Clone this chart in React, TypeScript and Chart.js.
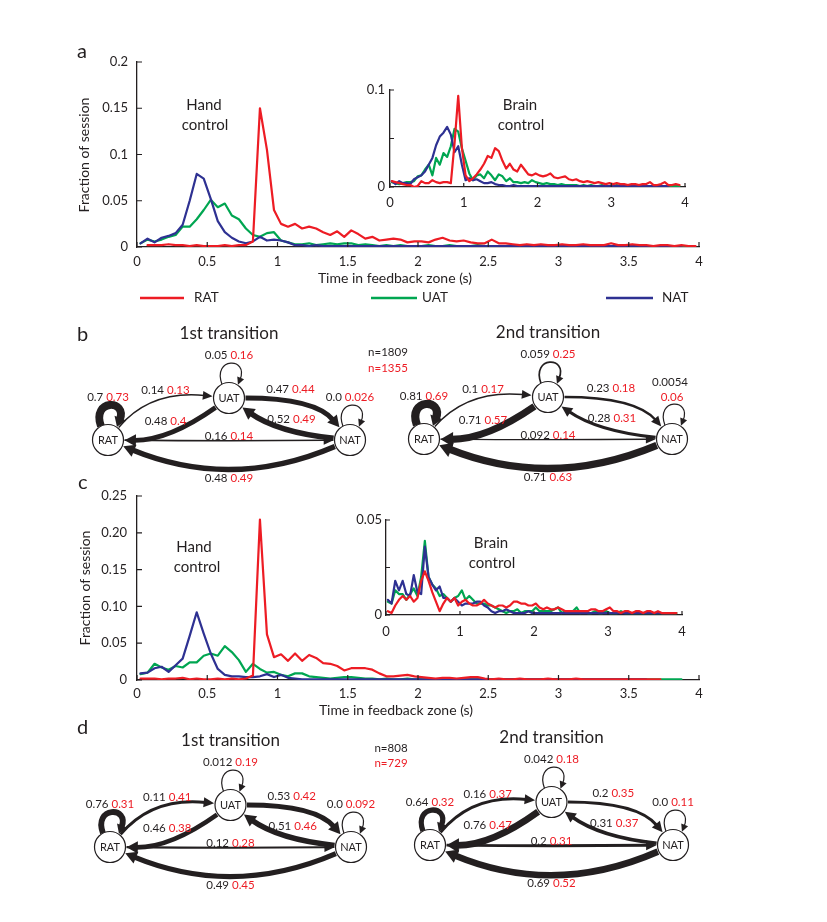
import React, { useEffect, useRef } from 'react';
import { Chart, registerables } from 'chart.js';

Chart.register(...registerables);

const FONT = 'Lato, "Noto Sans", "DejaVu Sans", sans-serif';
const INK = '#231f20';
const RED = '#ed1c24';
const GREEN = '#00a651';
const BLUE = '#2e3192';

// ---------- data ----------
// bin centres (s)
const TIME = [
  0.025, 0.075, 0.125, 0.175, 0.225, 0.275, 0.325, 0.375, 0.425, 0.475,
  0.525, 0.575, 0.625, 0.675, 0.725, 0.775, 0.825, 0.875, 0.925, 0.975,
  1.025, 1.075, 1.125, 1.175, 1.225, 1.275, 1.325, 1.375, 1.425, 1.475,
  1.525, 1.575, 1.625, 1.675, 1.725, 1.775, 1.825, 1.875, 1.925, 1.975,
  2.025, 2.075, 2.125, 2.175, 2.225, 2.275, 2.325, 2.375, 2.425, 2.475,
  2.525, 2.575, 2.625, 2.675, 2.725, 2.775, 2.825, 2.875, 2.925, 2.975,
  3.025, 3.075, 3.125, 3.175, 3.225, 3.275, 3.325, 3.375, 3.425, 3.475,
  3.525, 3.575, 3.625, 3.675, 3.725, 3.775, 3.825, 3.875, 3.925, 3.975,
];

// panel a, hand control
const A_HAND_RAT = [
  null, 0.002, 0.002, 0.002, 0.003, 0.002, 0.002, 0.001, 0.002, 0.001,
  0.001, 0.001, 0.002, 0.001, 0.002, 0.002, 0.006, 0.150, 0.105, 0.040,
  0.025, 0.022, 0.025, 0.020, 0.022, 0.020, 0.016, 0.013, 0.017, 0.011,
  0.018, 0.014, 0.009, 0.011, 0.007, 0.008, 0.009, 0.008, 0.005, 0.006,
  0.006, 0.005, 0.008, 0.010, 0.007, 0.006, 0.007, 0.005, 0.004, 0.004,
  0.008, 0.004, 0.004, 0.003, 0.002, 0.003, 0.002, 0.003, 0.002, 0.002,
  0.003, 0.002, 0.002, 0.003, 0.002, 0.002, 0.002, 0.004, 0.002, 0.002,
  0.003, 0.002, 0.002, 0.001, 0.002, 0.002, 0.001, 0.002, 0.001, 0.001,
];
const A_HAND_UAT = [
  0.004, 0.008, 0.006, 0.008, 0.011, 0.013, 0.022, 0.022, 0.030, 0.040,
  0.051, 0.043, 0.047, 0.034, 0.030, 0.020, 0.013, 0.011, 0.015, 0.016,
  0.007, 0.005, 0.003, 0.003, 0.004, 0.002, 0.003, 0.004, 0.003, 0.004,
  0.004, 0.002, 0.003, 0.002, 0.001, 0.002, 0.001, 0.002, 0.001, 0.001,
  0.001, 0.002, 0.001, 0.001, 0.002, 0.001, 0.001, 0.001, 0.002, 0.001,
  0.001, 0.001, 0.001, 0.002, 0.001, 0.001, 0.001, 0.001, 0.001, 0.001,
  0.001, 0.001, 0.001, 0.001, 0.001, 0.001, 0.001, 0.001, 0.001, 0.001,
  0.001, 0.001, 0.001, 0.001, 0.001, 0.001, 0.001, 0.001, 0.001, null,
];
const A_HAND_NAT = [
  0.004, 0.009, 0.005, 0.010, 0.012, 0.015, 0.024, 0.050, 0.079, 0.074,
  0.052, 0.028, 0.016, 0.010, 0.006, 0.004, 0.006, 0.011, 0.007, 0.008,
  0.007, 0.005, 0.002, 0.002, 0.001, 0.002, 0.001, 0.001, 0.001, 0.001,
  0.001, 0.001, 0.001, 0.001, 0.001, 0.001, 0.001, 0.001, 0.001, 0.001,
  0.001, 0.001, 0.001, 0.001, 0.001, 0.001, 0.001, 0.001, 0.001, 0.001,
  0.001, 0.001, 0.001, 0.001, 0.001, 0.001, 0.001, 0.001, 0.001, 0.001,
  0.001, 0.001, 0.001, 0.001, 0.001, 0.001, 0.001, 0.001, 0.001, 0.001,
  0.001, 0.001, 0.001, 0.001, 0.001, 0.001, 0.001, 0.001, null, null,
];

// panel a, brain control (inset)
const A_BRAIN_RAT = [
  0.006, 0.005, 0.004, 0.003, 0.002, 0.002, 0.000, 0.001, 0.006, 0.004,
  0.004, 0.007, 0.005, 0.004, 0.005, 0.005, 0.004, 0.045, 0.094, 0.040,
  0.012, 0.006, 0.009, 0.013, 0.018, 0.024, 0.032, 0.030, 0.040, 0.037,
  0.027, 0.019, 0.024, 0.018, 0.016, 0.023, 0.018, 0.013, 0.012, 0.014,
  0.012, 0.011, 0.012, 0.014, 0.010, 0.009, 0.010, 0.011, 0.008, 0.007,
  0.008, 0.006, 0.005, 0.006, 0.005, 0.004, 0.005, 0.004, 0.003, 0.004,
  0.003, 0.004, 0.003, 0.003, 0.002, 0.003, 0.003, 0.002, 0.003, 0.003,
  0.005, 0.002, 0.002, 0.003, 0.005, 0.002, 0.002, 0.003, 0.002, null,
];
const A_BRAIN_UAT = [
  0.005, 0.004, 0.003, 0.004, 0.005, 0.005, 0.006, 0.011, 0.012, 0.018,
  0.023, 0.012, 0.030, 0.023, 0.035, 0.031, 0.042, 0.060, 0.057, 0.040,
  0.027, 0.014, 0.007, 0.012, 0.013, 0.009, 0.016, 0.012, 0.007, 0.013,
  0.011, 0.006, 0.009, 0.005, 0.005, 0.004, 0.005, 0.004, 0.007, 0.005,
  0.004, 0.003, 0.004, 0.003, 0.003, 0.002, 0.003, 0.002, 0.002, 0.002,
  0.002, 0.001, 0.002, 0.001, 0.002, 0.001, 0.001, 0.002, 0.001, 0.001,
  0.001, 0.002, 0.001, 0.001, 0.001, 0.002, 0.001, 0.001, 0.001, 0.001,
  0.001, 0.001, 0.001, 0.001, 0.001, 0.001, 0.001, 0.001, 0.001, null,
];
const A_BRAIN_NAT = [
  0.006, 0.003, 0.006, 0.004, 0.004, 0.003, 0.008, 0.010, 0.012, 0.016,
  0.023, 0.030, 0.043, 0.052, 0.056, 0.062, 0.054, 0.036, 0.042, 0.023,
  0.007, 0.009, 0.007, 0.008, 0.006, 0.004, 0.004, 0.005, 0.003, 0.002,
  0.002, 0.001, 0.001, 0.002, 0.001, 0.001, 0.001, 0.001, 0.001, 0.001,
  0.001, 0.001, 0.001, 0.001, 0.001, 0.001, 0.001, 0.001, 0.001, 0.001,
  0.001, 0.001, 0.001, 0.001, 0.001, 0.001, 0.001, 0.001, 0.001, 0.001,
  0.001, 0.001, 0.001, 0.001, 0.001, 0.001, 0.001, 0.001, 0.001, 0.001,
  0.001, 0.001, 0.001, 0.001, 0.001, 0.001, null, null, null, null,
];

// panel c, hand control
const C_HAND_RAT = [
  0.002, 0.002, 0.002, 0.001, 0.002, 0.002, 0.003, 0.001, 0.002, 0.001,
  0.001, 0.002, 0.001, 0.002, 0.001, 0.002, 0.006, 0.218, 0.062, 0.031,
  0.035, 0.026, 0.036, 0.026, 0.034, 0.030, 0.023, 0.022, 0.019, 0.013,
  0.016, 0.016, 0.016, 0.014, 0.009, 0.005, 0.005, 0.006, 0.007, 0.005,
  0.004, 0.003, 0.002, 0.003, 0.003, 0.002, 0.003, 0.004, 0.004, 0.002,
  0.001, 0.002, 0.001, 0.001, 0.002, 0.001, 0.001, 0.001, 0.002, 0.001,
  0.001, 0.001, 0.002, 0.001, 0.001, 0.001, 0.001, 0.001, 0.001, 0.001,
  0.001, 0.001, 0.001, 0.001, 0.001, null, null, null, null, null,
];
const C_HAND_UAT = [
  0.008, 0.010, 0.022, 0.017, 0.014, 0.019, 0.017, 0.024, 0.024, 0.033,
  0.036, 0.033, 0.046, 0.038, 0.027, 0.011, 0.022, 0.015, 0.010, 0.011,
  0.007, 0.005, 0.009, 0.009, 0.005, 0.004, 0.003, 0.002, 0.003, 0.004,
  0.004, 0.003, 0.002, 0.002, 0.001, 0.002, 0.001, 0.001, 0.002, 0.001,
  0.001, 0.001, 0.001, 0.001, 0.001, 0.001, 0.001, 0.001, 0.001, 0.001,
  0.001, 0.001, 0.001, 0.001, 0.001, 0.001, 0.001, 0.001, 0.001, 0.001,
  0.001, 0.001, 0.001, 0.001, 0.001, 0.001, 0.001, 0.001, 0.001, 0.001,
  0.001, 0.001, 0.001, 0.001, 0.001, 0.001, 0.001, 0.001, null, null,
];
const C_HAND_NAT = [
  0.009, 0.010, 0.016, 0.018, 0.011, 0.020, 0.029, 0.060, 0.092, 0.063,
  0.036, 0.015, 0.007, 0.005, 0.005, 0.004, 0.004, 0.005, 0.008, 0.004,
  0.007, 0.003, 0.002, 0.001, 0.001, 0.001, 0.001, 0.001, 0.001, 0.001,
  0.001, 0.001, 0.001, 0.001, 0.001, 0.001, 0.001, 0.001, 0.001, 0.001,
  0.001, 0.001, 0.001, 0.001, 0.001, 0.001, 0.001, 0.001, 0.001, 0.001,
  0.001, 0.001, 0.001, 0.001, 0.001, 0.001, 0.001, 0.001, 0.001, 0.001,
  0.001, 0.001, 0.001, 0.001, 0.001, 0.001, 0.001, 0.001, 0.001, 0.001,
  0.001, 0.001, 0.001, null, null, null, null, null, null, null,
];

// panel c, brain control (inset)
const C_BRAIN_RAT = [
  0.002, 0.001, 0.005, 0.008, 0.010, 0.008, 0.010, 0.007, 0.009, 0.018,
  0.023, 0.018, 0.012, 0.007, 0.002, 0.006, 0.009, 0.007, 0.009, 0.005,
  0.007, 0.008, 0.006, 0.005, 0.005, 0.006, 0.008, 0.006, 0.005, 0.004,
  0.005, 0.005, 0.004, 0.005, 0.007, 0.007, 0.006, 0.006, 0.005, 0.005,
  0.006, 0.004, 0.003, 0.004, 0.003, 0.003, 0.004, 0.003, 0.002, 0.002,
  0.002, 0.002, 0.002, 0.002, 0.002, 0.003, 0.003, 0.002, 0.002, 0.003,
  0.004, 0.002, 0.002, 0.001, 0.002, 0.002, 0.001, 0.002, 0.002, 0.001,
  0.002, 0.002, 0.001, 0.002, 0.001, 0.001, 0.001, 0.001, 0.001, null,
];
const C_BRAIN_UAT = [
  0.007, 0.006, 0.013, 0.011, 0.011, 0.008, 0.011, 0.014, 0.010, 0.020,
  0.039, 0.020, 0.016, 0.014, 0.010, 0.011, 0.009, 0.007, 0.009, 0.010,
  0.013, 0.008, 0.010, 0.008, 0.006, 0.006, 0.006, 0.005, 0.005, 0.004,
  0.003, 0.002, 0.001, 0.002, 0.002, 0.003, 0.001, 0.002, 0.002, 0.002,
  0.004, 0.002, 0.002, 0.002, 0.002, 0.003, 0.004, 0.001, 0.002, 0.002,
  0.002, 0.004, 0.001, 0.002, 0.001, 0.001, 0.002, 0.001, 0.001, 0.002,
  0.001, 0.001, 0.001, 0.002, 0.001, 0.001, 0.001, 0.001, 0.001, 0.001,
  0.001, 0.001, 0.001, 0.001, 0.001, 0.001, 0.001, 0.001, 0.001, null,
];
const C_BRAIN_NAT = [
  0.008, 0.006, 0.018, 0.013, 0.018, 0.011, 0.010, 0.021, 0.012, 0.011,
  0.036, 0.020, 0.016, 0.013, 0.015, 0.009, 0.009, 0.007, 0.009, 0.007,
  0.005, 0.006, 0.006, 0.006, 0.007, 0.007, 0.005, 0.004, 0.002, 0.001,
  0.002, 0.002, 0.003, 0.002, 0.001, 0.001, 0.001, 0.001, 0.002, 0.001,
  0.001, 0.001, 0.001, 0.001, 0.001, 0.001, 0.001, 0.001, 0.001, 0.001,
  0.001, 0.001, 0.001, 0.001, 0.001, 0.001, 0.001, 0.001, 0.001, 0.001,
  0.001, 0.001, 0.001, 0.001, 0.001, 0.001, 0.001, 0.001, 0.001, 0.001,
  0.001, 0.001, 0.001, 0.001, 0.001, 0.001, 0.001, 0.001, null, null,
];

// transition diagrams: states and probabilities [from][to] (RAT, UAT, NAT)
const STATES = ['RAT', 'UAT', 'NAT'];
const B1_BLACK = [['0.7', '0.14', '0.16'], ['0.48', '0.05', '0.47'], ['0.48', '0.52', '0.0']];
const B1_RED = [['0.73', '0.13', '0.14'], ['0.4', '0.16', '0.44'], ['0.49', '0.49', '0.026']];
const B2_BLACK = [['0.81', '0.1', '0.092'], ['0.71', '0.059', '0.23'], ['0.71', '0.28', '0.0054']];
const B2_RED = [['0.69', '0.17', '0.14'], ['0.57', '0.25', '0.18'], ['0.63', '0.31', '0.06']];
const D1_BLACK = [['0.76', '0.11', '0.12'], ['0.46', '0.012', '0.53'], ['0.49', '0.51', '0.0']];
const D1_RED = [['0.31', '0.41', '0.28'], ['0.38', '0.19', '0.42'], ['0.45', '0.46', '0.092']];
const D2_BLACK = [['0.64', '0.16', '0.2'], ['0.76', '0.042', '0.2'], ['0.69', '0.31', '0.0']];
const D2_RED = [['0.32', '0.37', '0.31'], ['0.47', '0.18', '0.35'], ['0.52', '0.37', '0.11']];
const B_COUNTS = ['n=1809', 'n=1355'];
const D_COUNTS = ['n=808', 'n=729'];

// ---------- layout ----------
const NODE_X = [0, 1, 2];
const NODE_Y = [0, 1, 0];
const NODE_R = 15.5;
const EDGES = [
  { from: 0, to: 1, cx: 0.35, cy: 1.19, lx: -3, ly: -29 },
  { from: 1, to: 0, cx: 0.5, cy: -0.02, lx: -3, ly: 2 },
  { from: 1, to: 2, cx: 1.71, cy: 1.0, lx: 1, ly: -30 },
  { from: 2, to: 1, cx: 1.4, cy: 0.18, lx: 2, ly: 0 },
  { from: 0, to: 2, cx: 1.0, cy: -0.03, lx: 0, ly: -3.5 },
  { from: 2, to: 0, cx: 1.02, cy: -1.21, lx: 0, ly: 38 },
];

type Txt = { t: string; x: number; y: number; size?: number; color?: string; align?: string; rot?: boolean };

function textPlugin(texts: Txt[], ox: number, oy: number) {
  return {
    id: 'pageTexts',
    afterDraw(chart: any) {
      const ctx = chart.ctx;
      ctx.save();
      texts.forEach((tx) => {
        ctx.font = `${tx.size ?? 13}px ${FONT}`;
        ctx.fillStyle = tx.color ?? INK;
        ctx.textAlign = (tx.align ?? 'center') as CanvasTextAlign;
        ctx.textBaseline = 'middle';
        if (tx.rot) {
          ctx.save();
          ctx.translate(tx.x - ox, tx.y - oy);
          ctx.rotate(-Math.PI / 2);
          ctx.fillText(tx.t, 0, 0);
          ctx.restore();
        } else {
          ctx.fillText(tx.t, tx.x - ox, tx.y - oy);
        }
      });
      ctx.restore();
    },
  };
}

function legendPlugin(items: any[], ox: number, oy: number) {
  return {
    id: 'pageLegend',
    afterDraw(chart: any) {
      const ctx = chart.ctx;
      ctx.save();
      items.forEach((it) => {
        ctx.strokeStyle = it.color;
        ctx.lineWidth = 2.5;
        ctx.beginPath();
        ctx.moveTo(it.x1 - ox, it.y - oy);
        ctx.lineTo(it.x2 - ox, it.y - oy);
        ctx.stroke();
        ctx.font = `13.5px ${FONT}`;
        ctx.fillStyle = INK;
        ctx.textAlign = 'left';
        ctx.textBaseline = 'middle';
        ctx.fillText(it.label, it.tx - ox, it.y - oy);
      });
      ctx.restore();
    },
  };
}

function inTicksPlugin(len: number) {
  return {
    id: 'inTicks',
    afterDraw(chart: any) {
      const { ctx, chartArea: ca, scales } = chart;
      ctx.save();
      ctx.strokeStyle = INK;
      ctx.lineWidth = 1.2;
      ctx.beginPath();
      scales.x.ticks.forEach((t: any) => {
        const p = scales.x.getPixelForValue(t.value);
        ctx.moveTo(p, ca.bottom);
        ctx.lineTo(p, ca.bottom - len);
      });
      scales.y.ticks.forEach((t: any) => {
        const p = scales.y.getPixelForValue(t.value);
        ctx.moveTo(ca.left, p);
        ctx.lineTo(ca.left + len, p);
      });
      ctx.stroke();
      ctx.restore();
    },
  };
}

const fmtHalf = (v: number) => String(Number(v.toFixed(1)));

const A_MAIN = {
  rect: { x: 40, y: 40, w: 680, h: 270 },
  area: { l: 137, t: 62, r: 699, b: 247 },
  yAxisW: 40, xAxisH: 30, xStep: 0.5, yMax: 0.2, yStep: 0.05, xPad: 7, yPad: 9, tickLen: 5, lw: 2.2,
  xFmt: fmtHalf,
  yFmt: (v: number) => (v === 0 ? '0' : String(Number(v.toFixed(2)))),
  series: [
    { values: A_HAND_RAT, color: RED },
    { values: A_HAND_NAT, color: BLUE },
    { values: A_HAND_UAT, color: GREEN },
  ],
  texts: [
    { t: 'a', x: 77, y: 52, size: 20, align: 'left' },
    { t: 'Fraction of session', x: 84, y: 155, size: 14, rot: true },
    { t: 'Time in feedback zone (s)', x: 395, y: 278, size: 14 },
    { t: 'Hand', x: 204, y: 105, size: 15 },
    { t: 'control', x: 205, y: 125, size: 15 },
  ],
  legend: [
    { label: 'RAT', color: RED, x1: 140, x2: 184, y: 298, tx: 194 },
    { label: 'UAT', color: GREEN, x1: 371, x2: 417, y: 298, tx: 422 },
    { label: 'NAT', color: BLUE, x1: 606, x2: 653, y: 298, tx: 662 },
  ],
};

const A_INSET = {
  rect: { x: 330, y: 75, w: 380, h: 140 },
  area: { l: 390, t: 90, r: 685, b: 187 },
  yAxisW: 35, xAxisH: 25, xStep: 1, yMax: 0.1, yStep: 0.05, xPad: 8, yPad: 5, tickLen: 4, lw: 2.2,
  xFmt: (v: number) => String(v),
  yFmt: (v: number) => (v === 0 ? '0' : Math.abs(v - 0.1) < 1e-9 ? '0.1' : ''),
  series: [
    { values: A_BRAIN_RAT, color: RED },
    { values: A_BRAIN_NAT, color: BLUE },
    { values: A_BRAIN_UAT, color: GREEN },
  ],
  texts: [
    { t: 'Brain', x: 520, y: 105, size: 15 },
    { t: 'control', x: 521, y: 125, size: 15 },
  ],
  legend: null,
};

const C_MAIN = {
  rect: { x: 40, y: 470, w: 680, h: 260 },
  area: { l: 137, t: 496, r: 699, b: 680 },
  yAxisW: 40, xAxisH: 30, xStep: 0.5, yMax: 0.25, yStep: 0.05, xPad: 6, yPad: 10, tickLen: 5, lw: 2.2,
  xFmt: fmtHalf,
  yFmt: (v: number) => (v === 0 ? '0' : v.toFixed(2)),
  series: [
    { values: C_HAND_RAT, color: RED },
    { values: C_HAND_NAT, color: BLUE },
    { values: C_HAND_UAT, color: GREEN },
  ],
  texts: [
    { t: 'c', x: 78, y: 483, size: 20, align: 'left' },
    { t: 'Fraction of session', x: 85, y: 588, size: 14, rot: true },
    { t: 'Time in feedback zone (s)', x: 396, y: 710, size: 14 },
    { t: 'Hand', x: 194, y: 547, size: 15 },
    { t: 'control', x: 197, y: 567, size: 15 },
  ],
  legend: null,
};

const C_INSET = {
  rect: { x: 320, y: 505, w: 390, h: 140 },
  area: { l: 386, t: 520, r: 682, b: 615 },
  yAxisW: 38, xAxisH: 25, xStep: 1, yMax: 0.05, yStep: 0.025, xPad: 9, yPad: 4, tickLen: 4, lw: 2.2,
  xFmt: (v: number) => String(v),
  yFmt: (v: number) => (v === 0 ? '0' : Math.abs(v - 0.05) < 1e-9 ? '0.05' : ''),
  series: [
    { values: C_BRAIN_RAT, color: RED },
    { values: C_BRAIN_NAT, color: BLUE },
    { values: C_BRAIN_UAT, color: GREEN },
  ],
  texts: [
    { t: 'Brain', x: 491, y: 543, size: 15 },
    { t: 'control', x: 492, y: 563, size: 15 },
  ],
  legend: null,
};

function makeLineChart(canvas: HTMLCanvasElement, s: any) {
  const { rect, area } = s;
  const padding = {
    left: area.l - rect.x - s.yAxisW,
    top: area.t - rect.y,
    right: rect.x + rect.w - area.r,
    bottom: rect.y + rect.h - area.b - s.xAxisH,
  };
  const tickFont = { family: FONT, size: 13 };
  const plugins: any[] = [inTicksPlugin(s.tickLen), textPlugin(s.texts, rect.x, rect.y)];
  if (s.legend) plugins.push(legendPlugin(s.legend, rect.x, rect.y));
  return new Chart(canvas, {
    type: 'line',
    data: {
      datasets: s.series.map((ser: any) => ({
        data: TIME.map((t, i) => ({ x: t, y: ser.values[i] })),
        borderColor: ser.color,
        borderWidth: s.lw,
        borderJoinStyle: 'round',
        borderCapStyle: 'round',
        pointRadius: 0,
        tension: 0,
        fill: false,
        spanGaps: false,
      })),
    },
    options: {
      responsive: false,
      animation: false,
      events: [],
      layout: { padding },
      plugins: { legend: { display: false }, tooltip: { enabled: false } },
      scales: {
        x: {
          type: 'linear',
          min: 0,
          max: 4,
          afterFit: (sc: any) => { sc.height = s.xAxisH; },
          grid: { display: true, drawOnChartArea: false, drawTicks: false },
          border: { display: true, color: INK, width: 1.3 },
          ticks: { stepSize: s.xStep, autoSkip: false, maxRotation: 0, padding: s.xPad, color: INK, font: tickFont, callback: (v: any) => s.xFmt(Number(v)) },
        },
        y: {
          type: 'linear',
          min: 0,
          max: s.yMax,
          afterFit: (sc: any) => { sc.width = s.yAxisW; },
          grid: { display: true, drawOnChartArea: false, drawTicks: false },
          border: { display: true, color: INK, width: 1.3 },
          ticks: { stepSize: s.yStep, autoSkip: false, padding: s.yPad, color: INK, font: tickFont, callback: (v: any) => s.yFmt(Number(v)) },
        },
      },
    } as any,
    plugins,
  } as any);
}

// ---------- diagram drawing ----------
function unit(dx: number, dy: number) {
  const l = Math.hypot(dx, dy) || 1;
  return { x: dx / l, y: dy / l };
}

function arrowHead(ctx: CanvasRenderingContext2D, tip: any, d: any, al: number, aw: number) {
  const bx = tip.x - d.x * al;
  const by = tip.y - d.y * al;
  ctx.beginPath();
  ctx.moveTo(tip.x, tip.y);
  ctx.lineTo(bx - d.y * aw, by + d.x * aw);
  ctx.lineTo(bx + d.y * aw, by - d.x * aw);
  ctx.closePath();
  ctx.fill();
}

function edgeWidth(b: string, r: string) {
  return Math.max(1.2, ((parseFloat(b) + parseFloat(r)) / 2) * 11);
}

function drawCurve(ctx: CanvasRenderingContext2D, a: any, b: any, c: any, lw: number) {
  const R = NODE_R + 1;
  const u1 = unit(c.x - a.x, c.y - a.y);
  const s = { x: a.x + u1.x * R, y: a.y + u1.y * R };
  const u2 = unit(c.x - b.x, c.y - b.y);
  const tip = { x: b.x + u2.x * R, y: b.y + u2.y * R };
  const d = unit(tip.x - c.x, tip.y - c.y);
  const al = 9 + lw * 0.5;
  const aw = 3.5 + lw * 0.55;
  const e = { x: tip.x - d.x * al * 0.8, y: tip.y - d.y * al * 0.8 };
  ctx.lineWidth = lw;
  ctx.beginPath();
  ctx.moveTo(s.x, s.y);
  ctx.quadraticCurveTo(c.x, c.y, e.x, e.y);
  ctx.stroke();
  arrowHead(ctx, tip, d, al, aw);
}

function drawLoop(ctx: CanvasRenderingContext2D, n: any, lw: number) {
  const R = NODE_R;
  const a1 = (-117 * Math.PI) / 180;
  const a2 = (-56 * Math.PI) / 180;
  const s = { x: n.x + R * Math.cos(a1), y: n.y + R * Math.sin(a1) };
  const tip = { x: n.x + (R + 0.5) * Math.cos(a2), y: n.y + (R + 0.5) * Math.sin(a2) };
  const c1 = { x: n.x - 17, y: n.y - 41 };
  const c2 = { x: n.x + 20, y: n.y - 41 };
  const d = unit(tip.x - c2.x, tip.y - c2.y);
  const al = 7 + lw * 0.3;
  const aw = 3.2 + lw * 0.4;
  const e = { x: tip.x - d.x * al * 0.8, y: tip.y - d.y * al * 0.8 };
  ctx.lineWidth = lw;
  ctx.beginPath();
  ctx.moveTo(s.x, s.y);
  ctx.bezierCurveTo(c1.x, c1.y, c2.x, c2.y, e.x, e.y);
  ctx.stroke();
  arrowHead(ctx, tip, d, al, aw);
}

const LABEL_SIZE = 11.5;
function drawPair(ctx: CanvasRenderingContext2D, b: string, r: string, x: number, y: number) {
  ctx.font = `${LABEL_SIZE}px ${FONT}`;
  const wb = ctx.measureText(b).width;
  const sp = ctx.measureText(' ').width;
  const wr = ctx.measureText(r).width;
  const x0 = x - (wb + sp + wr) / 2;
  ctx.textAlign = 'left';
  ctx.textBaseline = 'middle';
  ctx.fillStyle = INK;
  ctx.fillText(b, x0, y);
  ctx.fillStyle = RED;
  ctx.fillText(r, x0 + wb + sp, y);
}

function diagramPlugin(spec: any) {
  const geo = (chart: any) => {
    const xs = chart.scales.x;
    const ys = chart.scales.y;
    const P = (u: number, v: number) => ({ x: xs.getPixelForValue(u), y: ys.getPixelForValue(v) });
    return { P, nodes: NODE_X.map((u, i) => P(u, NODE_Y[i])) };
  };
  return {
    id: 'diagram',
    beforeDatasetsDraw(chart: any) {
      const { P, nodes } = geo(chart);
      const ctx = chart.ctx;
      ctx.save();
      ctx.strokeStyle = INK;
      ctx.fillStyle = INK;
      ctx.lineCap = 'butt';
      EDGES.forEach((e) => {
        const lw = edgeWidth(spec.black[e.from][e.to], spec.red[e.from][e.to]);
        drawCurve(ctx, nodes[e.from], nodes[e.to], P(e.cx, e.cy), lw);
      });
      nodes.forEach((n, i) => drawLoop(ctx, n, edgeWidth(spec.black[i][i], spec.red[i][i])));
      ctx.restore();
    },
    afterDatasetsDraw(chart: any) {
      const { nodes } = geo(chart);
      const ctx = chart.ctx;
      ctx.save();
      ctx.font = `11px ${FONT}`;
      ctx.fillStyle = INK;
      ctx.textAlign = 'center';
      ctx.textBaseline = 'middle';
      nodes.forEach((n, i) => ctx.fillText(STATES[i], n.x, n.y + 0.5));
      EDGES.forEach((e) => {
        const a = nodes[e.from];
        const b = nodes[e.to];
        drawPair(ctx, spec.black[e.from][e.to], spec.red[e.from][e.to], (a.x + b.x) / 2 + e.lx, (a.y + b.y) / 2 + e.ly);
      });
      nodes.forEach((n, i) => {
        if (spec.stackSelf && spec.stackSelf[i]) {
          ctx.font = `${LABEL_SIZE}px ${FONT}`;
          ctx.textAlign = 'center';
          ctx.fillStyle = INK;
          ctx.fillText(spec.black[i][i], n.x - 2, n.y - 57);
          ctx.fillStyle = RED;
          ctx.fillText(spec.red[i][i], n.x, n.y - 42);
        } else {
          drawPair(ctx, spec.black[i][i], spec.red[i][i], n.x, n.y - 43);
        }
      });
      ctx.font = `17px ${FONT}`;
      ctx.fillStyle = INK;
      ctx.textAlign = 'center';
      ctx.textBaseline = 'middle';
      ctx.fillText(spec.title, (nodes[0].x + nodes[2].x) / 2, nodes[1].y - 64);
      ctx.restore();
    },
  };
}

function makeDiagram(canvas: HTMLCanvasElement, spec: any) {
  const { rect, frame } = spec;
  const padding = {
    left: frame.l - rect.x,
    right: rect.x + rect.w - frame.r,
    top: frame.t - rect.y,
    bottom: rect.y + rect.h - frame.b,
  };
  return new Chart(canvas, {
    type: 'scatter',
    data: {
      datasets: [
        {
          data: STATES.map((_, i) => ({ x: NODE_X[i], y: NODE_Y[i] })),
          pointRadius: NODE_R,
          pointBackgroundColor: '#ffffff',
          pointBorderColor: INK,
          pointBorderWidth: 1.2,
          clip: false,
        },
      ],
    },
    options: {
      responsive: false,
      animation: false,
      events: [],
      layout: { padding },
      plugins: { legend: { display: false }, tooltip: { enabled: false } },
      scales: {
        x: { type: 'linear', min: 0, max: 2, display: false },
        y: { type: 'linear', min: 0, max: 1, display: false },
      },
    } as any,
    plugins: [diagramPlugin(spec), textPlugin(spec.texts, rect.x, rect.y)],
  } as any);
}

const B_LEFT = {
  rect: { x: 60, y: 315, w: 350, h: 180 },
  frame: { l: 108, r: 350, t: 398, b: 440 },
  black: B1_BLACK, red: B1_RED, title: '1st transition', stackSelf: null,
  texts: [
    { t: 'b', x: 77, y: 335, size: 20, align: 'left' },
    { t: B_COUNTS[0], x: 388, y: 352, size: 11.5 },
    { t: B_COUNTS[1], x: 388, y: 368, size: 11.5, color: RED },
  ],
};
const B_RIGHT = {
  rect: { x: 395, y: 315, w: 325, h: 180 },
  frame: { l: 424, r: 672, t: 397, b: 439 },
  black: B2_BLACK, red: B2_RED, title: '2nd transition', stackSelf: [false, false, true],
  texts: [],
};
const D_LEFT = {
  rect: { x: 60, y: 715, w: 350, h: 185 },
  frame: { l: 110, r: 351, t: 805, b: 847 },
  black: D1_BLACK, red: D1_RED, title: '1st transition', stackSelf: null,
  texts: [
    { t: 'd', x: 77, y: 728, size: 20, align: 'left' },
    { t: D_COUNTS[0], x: 391, y: 748, size: 11.5 },
    { t: D_COUNTS[1], x: 391, y: 763, size: 11.5, color: RED },
  ],
};
const D_RIGHT = {
  rect: { x: 395, y: 715, w: 325, h: 185 },
  frame: { l: 430, r: 673, t: 802, b: 845 },
  black: D2_BLACK, red: D2_RED, title: '2nd transition', stackSelf: null,
  texts: [],
};

function ChartCanvas({ spec, kind }: { spec: any; kind: 'line' | 'diagram' }) {
  const ref = useRef<HTMLCanvasElement>(null);
  useEffect(() => {
    if (!ref.current) return;
    const chart = kind === 'line' ? makeLineChart(ref.current, spec) : makeDiagram(ref.current, spec);
    return () => chart.destroy();
  }, [spec, kind]);
  const r = spec.rect;
  return (
    <canvas
      ref={ref}
      width={r.w}
      height={r.h}
      style={{ position: 'absolute', left: r.x, top: r.y, width: r.w, height: r.h }}
    />
  );
}

export default function App() {
  return (
    <div style={{ position: 'absolute', left: 0, top: 0, width: 827, height: 922, background: '#ffffff', overflow: 'hidden' }}>
      <ChartCanvas spec={A_MAIN} kind="line" />
      <ChartCanvas spec={A_INSET} kind="line" />
      <ChartCanvas spec={B_LEFT} kind="diagram" />
      <ChartCanvas spec={B_RIGHT} kind="diagram" />
      <ChartCanvas spec={C_MAIN} kind="line" />
      <ChartCanvas spec={C_INSET} kind="line" />
      <ChartCanvas spec={D_LEFT} kind="diagram" />
      <ChartCanvas spec={D_RIGHT} kind="diagram" />
    </div>
  );
}
